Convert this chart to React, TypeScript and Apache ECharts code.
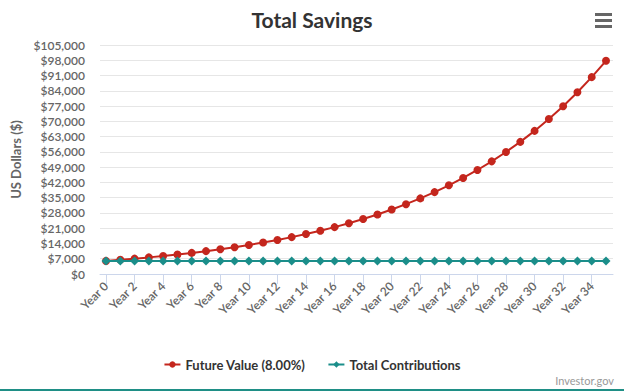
import React, { useEffect, useRef } from "react";
import * as echarts from "echarts";

const years: number[] = [
  0, 1, 2, 3, 4, 5, 6, 7, 8, 9, 10, 11, 12, 13, 14, 15, 16, 17, 18, 19, 20,
  21, 22, 23, 24, 25, 26, 27, 28, 29, 30, 31, 32, 33, 34, 35,
];
const futureValue: number[] = [
  6000, 6498, 7037, 7621, 8254, 8939, 9681, 10484, 11354, 12297, 13317, 14423,
  15620, 16916, 18320, 19841, 21487, 23271, 25202, 27294, 29559, 32013, 34670,
  37547, 40663, 44038, 47693, 51652, 55939, 60582, 65610, 71056, 76953, 83340,
  90257, 97749,
];
const contributions: number[] = [
  6000, 6000, 6000, 6000, 6000, 6000, 6000, 6000, 6000, 6000, 6000, 6000, 6000,
  6000, 6000, 6000, 6000, 6000, 6000, 6000, 6000, 6000, 6000, 6000, 6000, 6000,
  6000, 6000, 6000, 6000, 6000, 6000, 6000, 6000, 6000, 6000,
];
const xTickYears: number[] = [
  0, 2, 4, 6, 8, 10, 12, 14, 16, 18, 20, 22, 24, 26, 28, 30, 32, 34,
];

const FONT = "Lato, 'Open Sans', sans-serif";

export default function App() {
  const ref = useRef<HTMLDivElement>(null);
  useEffect(() => {
    if (!ref.current) return;
    const chart = echarts.init(ref.current, undefined, { renderer: "svg" });
    chart.setOption({
      animation: false,
      textStyle: { fontFamily: FONT },
      title: {
        text: "Total Savings",
        left: "center",
        top: 4,
        textStyle: { fontFamily: FONT, fontSize: 21, fontWeight: "bold", color: "#333333" },
      },
      legend: {
        left: "center",
        top: 353,
        itemWidth: 16,
        itemHeight: 8,
        itemGap: 22,
        textStyle: { fontFamily: FONT, fontSize: 13, fontWeight: "bold", color: "#333333" },
        data: ["Future Value (8.00%)", "Total Contributions"],
      },
      grid: { left: 100, right: 11, top: 45, bottom: 117, containLabel: false },
      xAxis: {
        type: "value",
        min: -0.42,
        max: 35.49,
        splitLine: { show: false },
        axisLine: { show: true, onZero: false, lineStyle: { color: "#ccd6eb", width: 1 } },
        axisTick: {
          show: true,
          length: 10,
          lineStyle: { color: "#ccd6eb" },
          customValues: xTickYears,
        },
        axisLabel: {
          rotate: 45,
          margin: 10,
          fontFamily: FONT,
          fontSize: 12,
          fontWeight: 600,
          color: "#666666",
          customValues: xTickYears,
          formatter: (v: number) => "Year " + Math.round(v),
        },
      },
      yAxis: {
        type: "value",
        min: 0,
        max: 105000,
        interval: 7000,
        name: "US Dollars ($)",
        nameLocation: "middle",
        nameRotate: 90,
        nameGap: 74,
        nameTextStyle: { fontFamily: FONT, fontSize: 13, fontWeight: "bold", color: "#666666" },
        axisLine: { show: false },
        axisTick: { show: false },
        splitLine: { lineStyle: { color: "#e6e6e6", width: 1 } },
        axisLabel: {
          margin: 15,
          fontFamily: FONT,
          fontSize: 12,
          fontWeight: 600,
          color: "#666666",
          formatter: (v: number) => "$" + v.toLocaleString("en-US"),
        },
      },
      series: [
        {
          name: "Future Value (8.00%)",
          type: "line",
          data: years.map((y, i) => [y, futureValue[i]]),
          symbol: "circle",
          symbolSize: 8,
          color: "#c4261d",
          lineStyle: { width: 2, color: "#c4261d" },
          itemStyle: { color: "#c4261d" },
          z: 2,
        },
        {
          name: "Total Contributions",
          type: "line",
          data: years.map((y, i) => [y, contributions[i]]),
          symbol: "diamond",
          symbolSize: 9,
          color: "#1b8e8a",
          lineStyle: { width: 2, color: "#1b8e8a" },
          itemStyle: { color: "#1b8e8a" },
          z: 3,
        },
      ],
      graphic: [
        { type: "rect", shape: { x: 595, y: 13, width: 17, height: 3 }, style: { fill: "#666666" } },
        { type: "rect", shape: { x: 595, y: 19, width: 17, height: 3 }, style: { fill: "#666666" } },
        { type: "rect", shape: { x: 595, y: 25, width: 17, height: 3 }, style: { fill: "#666666" } },
        {
          type: "text",
          right: 10,
          top: 375,
          style: { text: "Investor.gov", fontFamily: FONT, fontSize: 11, fill: "#999999" },
        },
        { type: "rect", shape: { x: 0, y: 389, width: 624, height: 2 }, style: { fill: "#1f8f86" } },
      ],
    });
    return () => chart.dispose();
  }, []);
  return (
    <div
      ref={ref}
      style={{ position: "fixed", left: 0, top: 0, width: 624, height: 391, background: "#ffffff" }}
    />
  );
}
